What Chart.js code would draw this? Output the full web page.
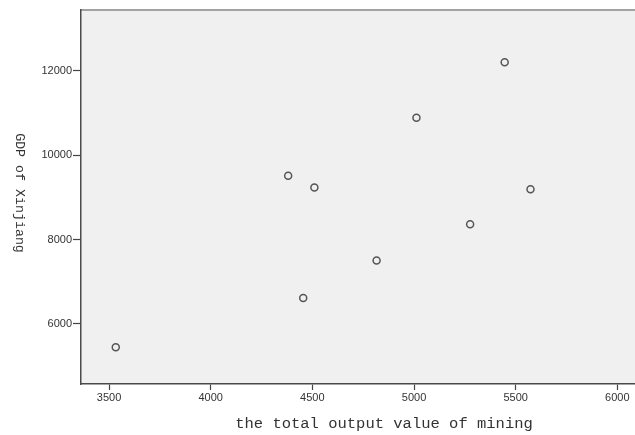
<!DOCTYPE html>
<html>
<head>
<meta charset="utf-8">
<script src="https://cdn.jsdelivr.net/npm/chart.js@4/dist/chart.umd.min.js"></script>
<style>
html,body{margin:0;padding:0;background:#fff;overflow:hidden;}
#wrap{width:635px;height:435px;position:relative;}
canvas{display:block;}
</style>
</head>
<body>
<div id="wrap"><canvas id="c" width="635" height="435"></canvas></div>
<script>
const miningOutput = [3533, 4381, 4455, 4510, 4816, 5012, 5276, 5446, 5573];
const gdpXinjiang  = [5448, 9510, 6616, 9235, 7502, 10884, 8363, 12199, 9194];
const xTicks = [3500, 4000, 4500, 5000, 5500, 6000];
const yTicks = [6000, 8000, 10000, 12000];
const xTitle = 'the total output value of mining';
const yTitle = 'GDP of Xinjiang';

const points = miningOutput.map((v, i) => ({x: v, y: gdpXinjiang[i]}));

const decor = {
  id: 'decor',
  beforeDraw(chart) {
    const {ctx, chartArea: a} = chart;
    ctx.save();
    ctx.fillStyle = '#f0f0f0';
    ctx.fillRect(a.left, a.top, a.right - a.left, a.bottom - a.top);
    ctx.strokeStyle = '#a3a3a3';
    ctx.lineWidth = 2;
    ctx.beginPath();
    ctx.moveTo(a.left, a.top);
    ctx.lineTo(a.right, a.top);
    ctx.stroke();
    ctx.restore();
  },
  afterDraw(chart) {
    const {ctx} = chart;
    ctx.save();
    ctx.fillStyle = '#333';
    ctx.textAlign = 'center';
    ctx.textBaseline = 'middle';
    ctx.font = '15.5px "Liberation Mono", monospace';
    ctx.fillText(xTitle, 384, 424);
    ctx.translate(20, 193);
    ctx.rotate(Math.PI / 2);
    ctx.font = '13.3px "Liberation Mono", monospace';
    ctx.fillText(yTitle, 0, 0);
    ctx.restore();
  }
};

new Chart(document.getElementById('c'), {
  type: 'scatter',
  data: {
    datasets: [{
      data: points,
      pointStyle: 'circle',
      pointRadius: 3.5,
      pointHoverRadius: 3.5,
      pointBorderWidth: 1.5,
      borderColor: '#555',
      backgroundColor: 'rgba(0,0,0,0)',
      clip: false
    }]
  },
  options: {
    responsive: false,
    animation: false,
    events: [],
    layout: {autoPadding: false, padding: {top: 10, right: 0, left: 0, bottom: 0}},
    plugins: {legend: {display: false}, tooltip: {enabled: false}},
    scales: {
      x: {
        type: 'linear',
        min: 3362,
        max: 6087,
        afterBuildTicks(s) { s.ticks = xTicks.map(v => ({value: v})); },
        afterFit(s) { s.height = 51; s.paddingLeft = 0; s.paddingRight = 0; },
        grid: {drawOnChartArea: false, drawTicks: true, tickLength: 6, tickColor: '#444', tickWidth: 1.2},
        border: {display: true, color: '#4a4a4a', width: 1.5},
        ticks: {padding: 1, color: '#333', font: {family: '"Liberation Sans", Arial, sans-serif', size: 11}, maxRotation: 0, autoSkip: false, callback: v => String(v)}
      },
      y: {
        type: 'linear',
        min: 4578,
        max: 13438,
        afterBuildTicks(s) { s.ticks = yTicks.map(v => ({value: v})); },
        afterFit(s) { s.width = 81; s.paddingTop = 0; s.paddingBottom = 0; },
        grid: {drawOnChartArea: false, drawTicks: true, tickLength: 8, tickColor: '#444', tickWidth: 1.2},
        border: {display: true, color: '#4a4a4a', width: 1.5},
        ticks: {padding: 1, color: '#333', font: {family: '"Liberation Sans", Arial, sans-serif', size: 11}, autoSkip: false, callback: v => String(v)}
      }
    }
  },
  plugins: [decor]
});
</script>
</body>
</html>
